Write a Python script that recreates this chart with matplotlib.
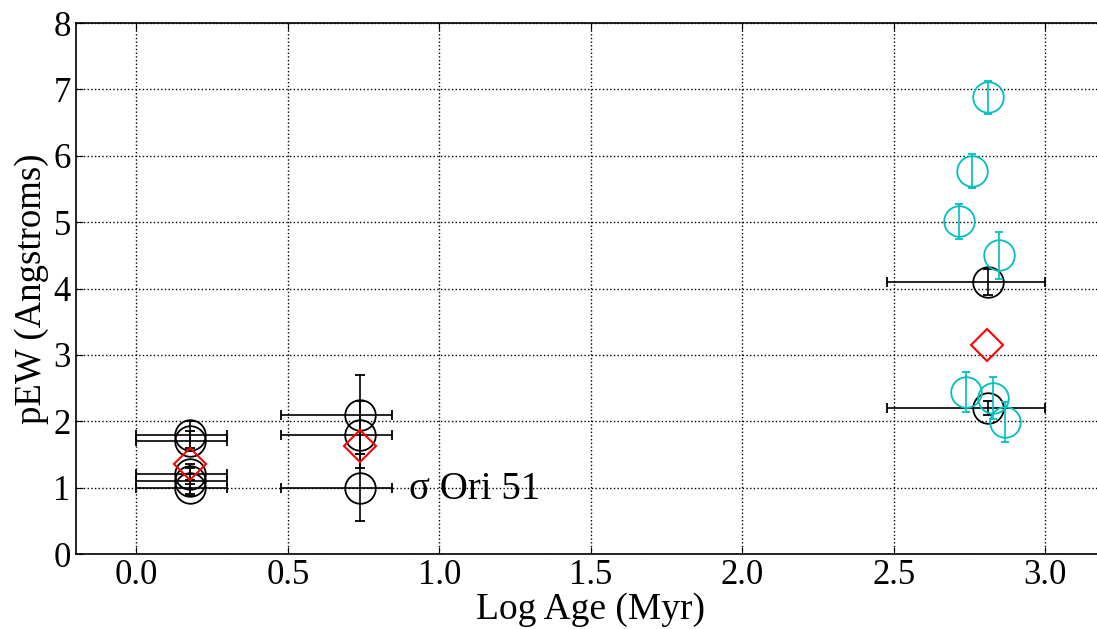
import matplotlib
matplotlib.use("Agg")
import matplotlib.pyplot as plt

plt.rcParams["font.family"] = ["Liberation Serif", "DejaVu Serif"]

# black points: log age, x-error range, pEW and its error
blk_x = [0.176, 0.176, 0.176, 0.176, 0.176, 0.740, 0.740, 0.740, 2.812, 2.812]
blk_xlo = [0.176, 0.176, 0.176, 0.176, 0.176, 0.263, 0.263, 0.263, 0.335, 0.335]
blk_xhi = [0.125, 0.125, 0.125, 0.125, 0.125, 0.105, 0.105, 0.105, 0.188, 0.188]
blk_y = [1.8, 1.7, 1.2, 1.1, 1.0, 2.1, 1.8, 1.0, 4.1, 2.2]
blk_yerr = [0.2, 0.15, 0.15, 0.2, 0.12, 0.6, 0.5, 0.5, 0.2, 0.1]

# cyan points
cyan_x = [2.81, 2.757, 2.717, 2.848, 2.738, 2.829, 2.867]
cyan_y = [6.88, 5.77, 5.01, 4.50, 2.44, 2.35, 1.99]
cyan_yerr = [0.25, 0.25, 0.27, 0.35, 0.30, 0.31, 0.30]

# group means (red diamonds)
mean_x = [0.176, 0.740, 2.807]
mean_y = [1.36, 1.62, 3.15]

fig = plt.figure(figsize=(10.97, 6.29), dpi=100)
ax = fig.add_axes([0.069, 0.1192, 0.939, 0.8442])

ax.errorbar(blk_x, blk_y, xerr=[blk_xlo, blk_xhi], yerr=blk_yerr,
            fmt="o", mfc="none", mec="k", ms=22, mew=1.3,
            ecolor="k", elinewidth=1.2, capsize=3.5, capthick=1.2, zorder=3)
ax.errorbar(cyan_x, cyan_y, yerr=cyan_yerr,
            fmt="o", mfc="none", mec="c", ms=22, mew=1.3,
            ecolor="c", elinewidth=1.2, capsize=3, capthick=1.2, zorder=4)
ax.plot(mean_x, mean_y, "D", mfc="none", mec="r", ms=16, mew=1.5, zorder=5)

ax.text(0.9, 0.97, "\u03c3 Ori 51", fontsize=28, ha="left", va="center")

ax.set_xlim(-0.2, 3.2)
ax.set_ylim(0, 8)
ax.set_xticks([0.0, 0.5, 1.0, 1.5, 2.0, 2.5, 3.0])
ax.set_yticks(range(9))
ax.grid(True, ls=":", color="k", lw=1)
ax.tick_params(direction="in", length=5, labelsize=25, top=True, right=True)
ax.set_xlabel("Log Age (Myr)", fontsize=27, labelpad=0)
ax.set_ylabel("pEW (Angstroms)", fontsize=26.5, labelpad=3)
for s in ax.spines.values():
    s.set_linewidth(1.2)

fig.savefig("out.png", dpi=100)
